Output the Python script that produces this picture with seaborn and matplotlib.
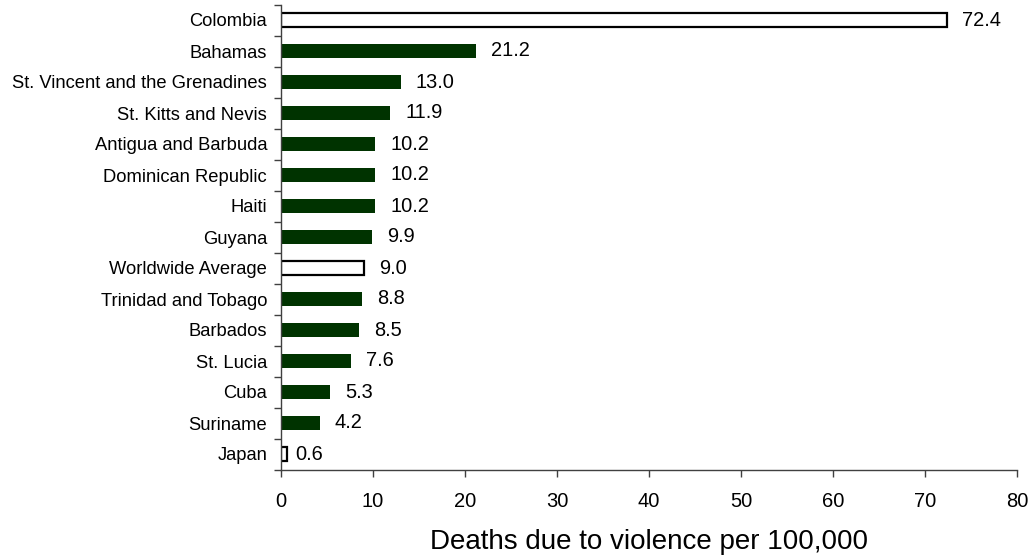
import matplotlib
matplotlib.use("Agg")
import matplotlib.pyplot as plt
import seaborn as sns
import numpy as np

countries = ["Colombia", "Bahamas", "St. Vincent and the Grenadines", "St. Kitts and Nevis",
             "Antigua and Barbuda", "Dominican Republic", "Haiti", "Guyana", "Worldwide Average",
             "Trinidad and Tobago", "Barbados", "St. Lucia", "Cuba", "Suriname", "Japan"]
values = [72.4, 21.2, 13.0, 11.9, 10.2, 10.2, 10.2, 9.9, 9.0, 8.8, 8.5, 7.6, 5.3, 4.2, 0.6]
highlight = ["Colombia", "Worldwide Average", "Japan"]
value_labels = [f"{v:.1f}" for v in values]
x_ticks = [0, 10, 20, 30, 40, 50, 60, 70, 80]
x_label = "Deaths due to violence per 100,000"

GREEN = "#003300"

sns.set_style("white")
plt.rcParams["font.family"] = ["Liberation Sans", "DejaVu Sans"]
plt.rcParams["text.color"] = "black"
plt.rcParams["axes.labelcolor"] = "black"
plt.rcParams["xtick.color"] = "black"
plt.rcParams["ytick.color"] = "black"

fig = plt.figure(figsize=(10.31, 5.56), dpi=100)
ax = fig.add_axes([281/1031, 1 - 469.5/556, (1017-281)/1031, (469.5-4.5)/556])

palette = {c: ("white" if c in highlight else GREEN) for c in countries}
sns.barplot(x=values, y=countries, hue=countries, palette=palette, legend=False,
            orient="h", width=0.42, ax=ax, saturation=1)

for patch, c in zip(ax.patches, countries):
    if c in highlight:
        patch.set_edgecolor("black")
        patch.set_linewidth(1.6)
    else:
        patch.set_edgecolor(GREEN)
        patch.set_linewidth(0)

for i, (c, v, lab) in enumerate(zip(countries, values, value_labels)):
    off = 6 if c == "Japan" else 11
    ax.annotate(lab, xy=(v, i), xytext=(off, 0), textcoords="offset points",
                ha="left", va="center", fontsize=14.4, color="black")

ax.set_xlim(0, 80)
ax.set_ylim(len(countries) - 0.5, -0.5)
ax.set_xticks(x_ticks)
ax.set_xticklabels([str(t) for t in x_ticks], fontsize=14.5, color="black")
ax.set_yticks(range(len(countries)))
ax.set_yticklabels(countries, fontsize=13.2, color="black")
ax.set_yticks(np.arange(-0.5, len(countries), 1), minor=True)
ax.tick_params(axis="y", which="major", left=True, length=0, pad=10)
ax.tick_params(axis="y", which="minor", left=True, length=5, width=1, direction="out", color="#404040")
ax.tick_params(axis="x", which="major", bottom=True, length=5, width=1, direction="out", color="#404040", pad=11)
ax.set_xlabel(x_label, fontsize=20, labelpad=13, color="black")
ax.set_ylabel("")

for s in ["top", "right"]:
    ax.spines[s].set_visible(False)
for s in ["left", "bottom"]:
    ax.spines[s].set_color("#404040")
    ax.spines[s].set_linewidth(1)

fig.savefig("out.png", dpi=100)
